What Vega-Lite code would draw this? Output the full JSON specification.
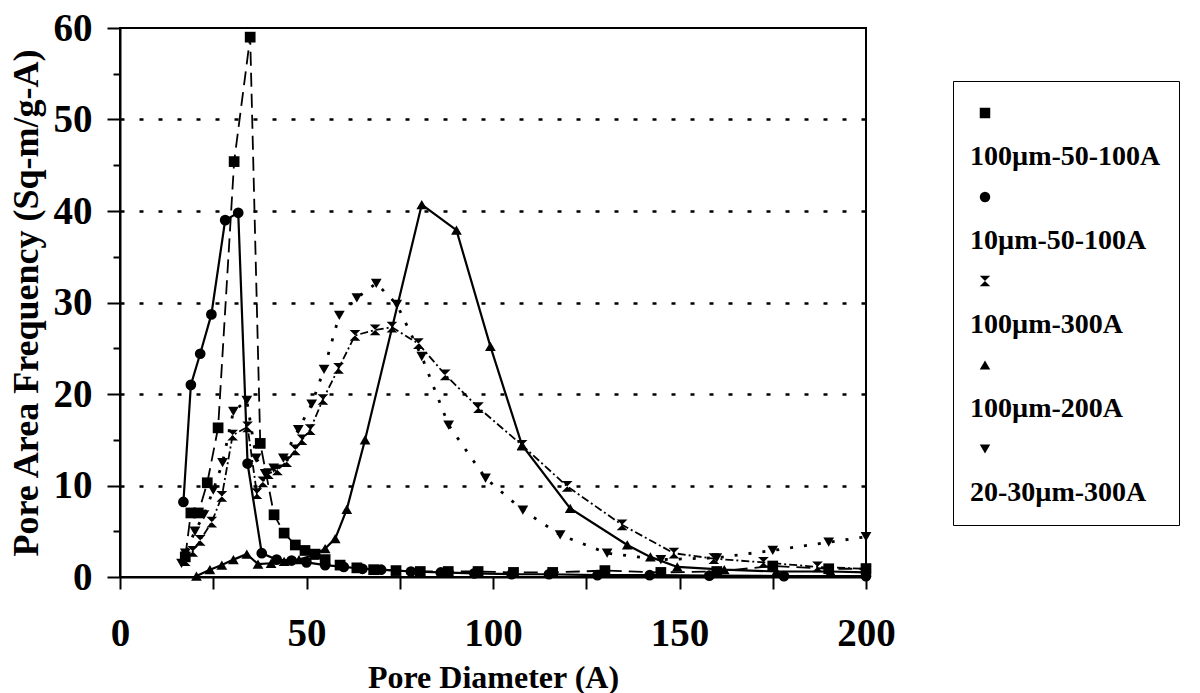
{
  "$schema": "https://vega.github.io/schema/vega-lite/v6.json",
  "width": 746,
  "height": 549,
  "autosize": {"type": "none"},
  "padding": {"left": 120, "top": 28, "right": 334, "bottom": 116},
  "background": "white",
  "datasets": {
    "pores": [
      {"series": "100µm-50-100A", "x": 17.5, "y": 2.2},
      {"series": "100µm-50-100A", "x": 19.0, "y": 7.0},
      {"series": "100µm-50-100A", "x": 21.0, "y": 7.0},
      {"series": "100µm-50-100A", "x": 23.4, "y": 10.3},
      {"series": "100µm-50-100A", "x": 26.3, "y": 16.3},
      {"series": "100µm-50-100A", "x": 30.6, "y": 45.4},
      {"series": "100µm-50-100A", "x": 34.9, "y": 59.0},
      {"series": "100µm-50-100A", "x": 37.6, "y": 14.6},
      {"series": "100µm-50-100A", "x": 41.3, "y": 6.8},
      {"series": "100µm-50-100A", "x": 44.0, "y": 4.8},
      {"series": "100µm-50-100A", "x": 47.0, "y": 3.5},
      {"series": "100µm-50-100A", "x": 49.6, "y": 2.9},
      {"series": "100µm-50-100A", "x": 52.3, "y": 2.5},
      {"series": "100µm-50-100A", "x": 55.0, "y": 1.9},
      {"series": "100µm-50-100A", "x": 59.0, "y": 1.3},
      {"series": "100µm-50-100A", "x": 63.5, "y": 1.0},
      {"series": "100µm-50-100A", "x": 68.0, "y": 0.8},
      {"series": "100µm-50-100A", "x": 74.0, "y": 0.7},
      {"series": "100µm-50-100A", "x": 80.5, "y": 0.6},
      {"series": "100µm-50-100A", "x": 88.0, "y": 0.6},
      {"series": "100µm-50-100A", "x": 96.0, "y": 0.6},
      {"series": "100µm-50-100A", "x": 105.5, "y": 0.5},
      {"series": "100µm-50-100A", "x": 116.0, "y": 0.5},
      {"series": "100µm-50-100A", "x": 130.0, "y": 0.7},
      {"series": "100µm-50-100A", "x": 145.0, "y": 0.5},
      {"series": "100µm-50-100A", "x": 160.0, "y": 0.6},
      {"series": "100µm-50-100A", "x": 175.0, "y": 1.2},
      {"series": "100µm-50-100A", "x": 190.0, "y": 0.9},
      {"series": "100µm-50-100A", "x": 200.0, "y": 0.9},
      {"series": "10µm-50-100A", "x": 17.0, "y": 8.2},
      {"series": "10µm-50-100A", "x": 19.0, "y": 21.0},
      {"series": "10µm-50-100A", "x": 21.5, "y": 24.4},
      {"series": "10µm-50-100A", "x": 24.5, "y": 28.7},
      {"series": "10µm-50-100A", "x": 28.2, "y": 39.0},
      {"series": "10µm-50-100A", "x": 31.7, "y": 39.8},
      {"series": "10µm-50-100A", "x": 34.2, "y": 12.4},
      {"series": "10µm-50-100A", "x": 38.0, "y": 2.6},
      {"series": "10µm-50-100A", "x": 42.0, "y": 1.9},
      {"series": "10µm-50-100A", "x": 46.0, "y": 1.8},
      {"series": "10µm-50-100A", "x": 50.0, "y": 1.6},
      {"series": "10µm-50-100A", "x": 55.0, "y": 1.3},
      {"series": "10µm-50-100A", "x": 60.0, "y": 1.1},
      {"series": "10µm-50-100A", "x": 65.0, "y": 0.9},
      {"series": "10µm-50-100A", "x": 70.0, "y": 0.8},
      {"series": "10µm-50-100A", "x": 78.0, "y": 0.6},
      {"series": "10µm-50-100A", "x": 86.0, "y": 0.5},
      {"series": "10µm-50-100A", "x": 95.0, "y": 0.4},
      {"series": "10µm-50-100A", "x": 105.0, "y": 0.3},
      {"series": "10µm-50-100A", "x": 115.0, "y": 0.3},
      {"series": "10µm-50-100A", "x": 128.0, "y": 0.2},
      {"series": "10µm-50-100A", "x": 142.0, "y": 0.2},
      {"series": "10µm-50-100A", "x": 158.0, "y": 0.15},
      {"series": "10µm-50-100A", "x": 178.0, "y": 0.1},
      {"series": "10µm-50-100A", "x": 200.0, "y": 0.1},
      {"series": "100µm-300A", "x": 17.5, "y": 1.8},
      {"series": "100µm-300A", "x": 19.5, "y": 2.8},
      {"series": "100µm-300A", "x": 21.5, "y": 4.0},
      {"series": "100µm-300A", "x": 24.6, "y": 6.0},
      {"series": "100µm-300A", "x": 27.3, "y": 8.8},
      {"series": "100µm-300A", "x": 30.2, "y": 15.5},
      {"series": "100µm-300A", "x": 34.2, "y": 16.4},
      {"series": "100µm-300A", "x": 36.7, "y": 9.1},
      {"series": "100µm-300A", "x": 38.3, "y": 10.4},
      {"series": "100µm-300A", "x": 39.8, "y": 11.3},
      {"series": "100µm-300A", "x": 42.2, "y": 11.7},
      {"series": "100µm-300A", "x": 44.7, "y": 12.6},
      {"series": "100µm-300A", "x": 47.0, "y": 13.9},
      {"series": "100µm-300A", "x": 48.8, "y": 15.0},
      {"series": "100µm-300A", "x": 51.0, "y": 16.1},
      {"series": "100µm-300A", "x": 54.4, "y": 19.4},
      {"series": "100µm-300A", "x": 58.6, "y": 22.8},
      {"series": "100µm-300A", "x": 63.0, "y": 26.4},
      {"series": "100µm-300A", "x": 68.4, "y": 27.0},
      {"series": "100µm-300A", "x": 72.9, "y": 27.3},
      {"series": "100µm-300A", "x": 80.0, "y": 25.5},
      {"series": "100µm-300A", "x": 87.2, "y": 22.1},
      {"series": "100µm-300A", "x": 96.1, "y": 18.5},
      {"series": "100µm-300A", "x": 107.8, "y": 14.4},
      {"series": "100µm-300A", "x": 119.9, "y": 9.9},
      {"series": "100µm-300A", "x": 134.6, "y": 5.7},
      {"series": "100µm-300A", "x": 148.5, "y": 2.6},
      {"series": "100µm-300A", "x": 159.2, "y": 2.0},
      {"series": "100µm-300A", "x": 172.5, "y": 1.6},
      {"series": "100µm-300A", "x": 187.0, "y": 1.1},
      {"series": "100µm-300A", "x": 200.0, "y": 0.9},
      {"series": "100µm-200A", "x": 20.5, "y": 0.1},
      {"series": "100µm-200A", "x": 24.1, "y": 0.8},
      {"series": "100µm-200A", "x": 27.3, "y": 1.3},
      {"series": "100µm-200A", "x": 30.4, "y": 1.9},
      {"series": "100µm-200A", "x": 34.0, "y": 2.5},
      {"series": "100µm-200A", "x": 37.0, "y": 1.4},
      {"series": "100µm-200A", "x": 40.5, "y": 1.5},
      {"series": "100µm-200A", "x": 44.0, "y": 1.7},
      {"series": "100µm-200A", "x": 48.0, "y": 1.9},
      {"series": "100µm-200A", "x": 52.0, "y": 2.4},
      {"series": "100µm-200A", "x": 55.0, "y": 3.1},
      {"series": "100µm-200A", "x": 57.7, "y": 4.2},
      {"series": "100µm-200A", "x": 60.8, "y": 7.4},
      {"series": "100µm-200A", "x": 65.7, "y": 15.0},
      {"series": "100µm-200A", "x": 80.9, "y": 40.7},
      {"series": "100µm-200A", "x": 90.2, "y": 37.9},
      {"series": "100µm-200A", "x": 99.3, "y": 25.2},
      {"series": "100µm-200A", "x": 107.8, "y": 14.4},
      {"series": "100µm-200A", "x": 120.7, "y": 7.5},
      {"series": "100µm-200A", "x": 136.0, "y": 3.5},
      {"series": "100µm-200A", "x": 142.2, "y": 2.2},
      {"series": "100µm-200A", "x": 149.4, "y": 1.1},
      {"series": "100µm-200A", "x": 162.0, "y": 0.8},
      {"series": "100µm-200A", "x": 176.0, "y": 0.6},
      {"series": "100µm-200A", "x": 190.5, "y": 0.6},
      {"series": "100µm-200A", "x": 200.0, "y": 0.5},
      {"series": "20-30µm-300A", "x": 16.5, "y": 1.5},
      {"series": "20-30µm-300A", "x": 17.5, "y": 2.6},
      {"series": "20-30µm-300A", "x": 20.1, "y": 5.0},
      {"series": "20-30µm-300A", "x": 22.5, "y": 6.8},
      {"series": "20-30µm-300A", "x": 25.0, "y": 9.5},
      {"series": "20-30µm-300A", "x": 27.5, "y": 12.5},
      {"series": "20-30µm-300A", "x": 30.4, "y": 18.1},
      {"series": "20-30µm-300A", "x": 34.0, "y": 19.3},
      {"series": "20-30µm-300A", "x": 36.5, "y": 13.0},
      {"series": "20-30µm-300A", "x": 38.9, "y": 11.3},
      {"series": "20-30µm-300A", "x": 41.2, "y": 11.9},
      {"series": "20-30µm-300A", "x": 43.8, "y": 13.0},
      {"series": "20-30µm-300A", "x": 47.8, "y": 16.1},
      {"series": "20-30µm-300A", "x": 51.4, "y": 18.9},
      {"series": "20-30µm-300A", "x": 54.7, "y": 22.7},
      {"series": "20-30µm-300A", "x": 58.8, "y": 28.6},
      {"series": "20-30µm-300A", "x": 63.5, "y": 30.5},
      {"series": "20-30µm-300A", "x": 68.7, "y": 32.1},
      {"series": "20-30µm-300A", "x": 74.2, "y": 29.8},
      {"series": "20-30µm-300A", "x": 80.9, "y": 24.1},
      {"series": "20-30µm-300A", "x": 88.1, "y": 16.6},
      {"series": "20-30µm-300A", "x": 98.0, "y": 10.8},
      {"series": "20-30µm-300A", "x": 108.0, "y": 7.3},
      {"series": "20-30µm-300A", "x": 118.0, "y": 4.6},
      {"series": "20-30µm-300A", "x": 130.6, "y": 2.6},
      {"series": "20-30µm-300A", "x": 145.0, "y": 1.9},
      {"series": "20-30µm-300A", "x": 160.0, "y": 2.1},
      {"series": "20-30µm-300A", "x": 175.0, "y": 2.9},
      {"series": "20-30µm-300A", "x": 190.0, "y": 3.8},
      {"series": "20-30µm-300A", "x": 200.0, "y": 4.4}
    ]
  },
  "data": {"name": "pores"},
  "encoding": {
    "x": {
      "field": "x", "type": "quantitative",
      "scale": {"domain": [0, 200], "nice": false},
      "axis": {
        "title": "Pore Diameter (A)",
        "values": [0, 25, 50, 75, 100, 125, 150, 175, 200],
        "labelExpr": "datum.value % 50 === 0 ? datum.label : ''",
        "grid": false,
        "tickSize": 12,
        "labelPadding": 25,
        "titlePadding": 9,
        "titleFontSize": 32
      }
    },
    "y": {
      "field": "y", "type": "quantitative",
      "scale": {"domain": [0, 60], "nice": false},
      "axis": {
        "title": "Pore Area Frequency (Sq-m/g-A)",
        "values": [0, 5, 10, 15, 20, 25, 30, 35, 40, 45, 50, 55, 60],
        "labelExpr": "datum.value % 10 === 0 ? datum.label : ''",
        "grid": true,
        "gridColor": "black",
        "gridDash": [4, 15],
        "gridWidth": 2.5,
        "gridOpacity": {"condition": {"test": "datum.value % 10 !== 0 || datum.value === 0 || datum.value === 60", "value": 0}, "value": 1},
        "tickSize": {"condition": {"test": "datum.value % 10 === 0", "value": 13}, "value": 7},
        "labelPadding": 15,
        "titlePadding": 8,
        "titleFontSize": 36
      }
    }
  },
  "layer": [
    {
      "transform": [{"filter": {"field": "series", "equal": "100µm-50-100A"}}],
      "mark": {"type": "line", "color": "black", "strokeDash": [14, 7], "strokeWidth": 1.8, "clip": true},
      "encoding": {}
    },
    {
      "transform": [{"filter": {"field": "series", "equal": "10µm-50-100A"}}],
      "mark": {"type": "line", "color": "black", "strokeWidth": 2.2, "clip": true},
      "encoding": {}
    },
    {
      "transform": [{"filter": {"field": "series", "equal": "100µm-300A"}}],
      "mark": {"type": "line", "color": "black", "strokeDash": [8, 3, 2, 3], "strokeWidth": 1.8, "clip": true},
      "encoding": {}
    },
    {
      "transform": [{"filter": {"field": "series", "equal": "100µm-200A"}}],
      "mark": {"type": "line", "color": "black", "strokeWidth": 2.2, "clip": true},
      "encoding": {}
    },
    {
      "transform": [{"filter": {"field": "series", "equal": "20-30µm-300A"}}],
      "mark": {"type": "line", "color": "black", "strokeDash": [3, 11], "strokeWidth": 2.8, "clip": true},
      "encoding": {}
    },
    {
      "mark": {"type": "point", "filled": true, "color": "black", "opacity": 1, "size": 115},
      "encoding": {
        "shape": {
          "field": "series", "type": "nominal",
          "scale": {
            "domain": ["100µm-50-100A", "10µm-50-100A", "100µm-300A", "100µm-200A", "20-30µm-300A"],
            "range": ["square", "circle", "M-1,-1H1L-1,1H1Z", "triangle-up", "triangle-down"]
          },
          "legend": {
            "title": null,
            "offset": 87,
            "padding": 18,
            "strokeColor": "black",
            "fillColor": "white",
            "symbolSize": 110,
            "symbolFillColor": "black",
            "symbolStrokeColor": "black",
            "symbolStrokeWidth": 1,
            "symbolOpacity": 1,
            "symbolOffset": 0,
            "labelFont": "Liberation Serif",
            "labelFontSize": 28,
            "labelFontWeight": "bold",
            "labelColor": "black",
            "labelBaseline": "top",
            "labelOffset": -29,
            "labelLimit": 400,
            "labelExpr": "['', datum.label]",
            "rowPadding": 12
          }
        }
      }
    }
  ],
  "config": {
    "font": "Liberation Serif",
    "view": {"stroke": "black", "strokeWidth": 2},
    "legend": {"layout": {"anchor": "middle", "right": {"anchor": "middle"}}},
    "axis": {
      "domainColor": "black",
      "domainWidth": 2,
      "tickColor": "black",
      "tickWidth": 2,
      "labelFont": "Liberation Serif",
      "labelFontSize": 39,
      "labelFontWeight": "bold",
      "labelColor": "black",
      "labelFlush": false,
      "labelOverlap": false,
      "titleFont": "Liberation Serif",
      "titleFontWeight": "bold",
      "titleColor": "black"
    }
  }
}
